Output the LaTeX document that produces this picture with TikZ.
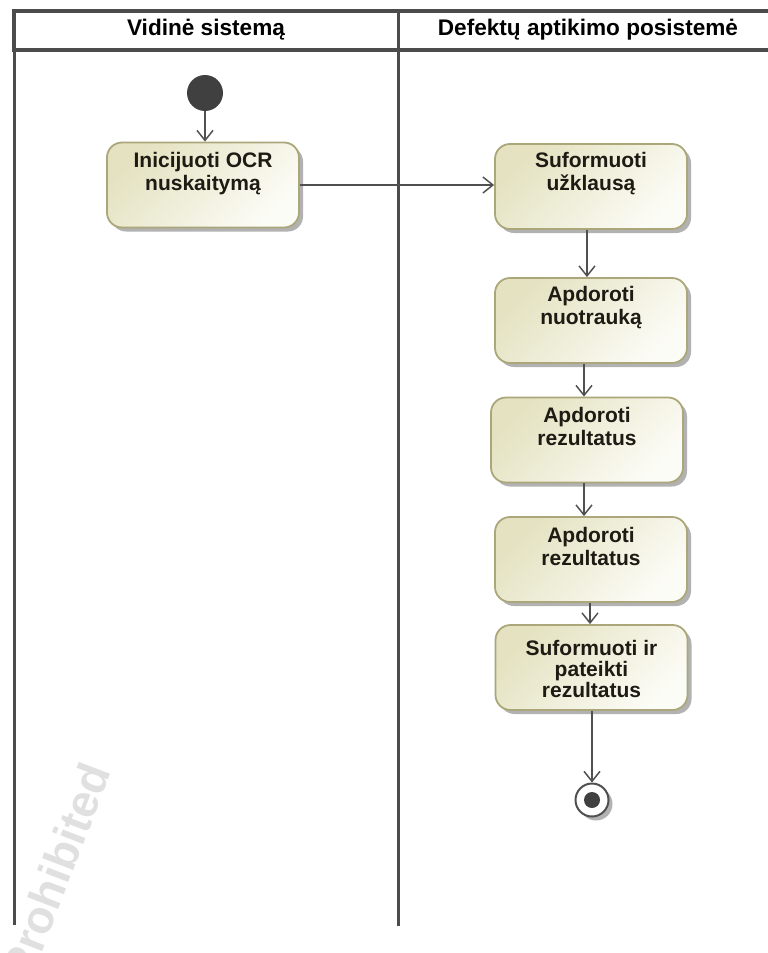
\documentclass[tikz,border=0pt]{standalone}
\usepackage{fontspec}
\setmainfont{Liberation Sans}
\usetikzlibrary{arrows.meta,shadows}

\definecolor{lanegray}{HTML}{4C4C4C}
\definecolor{flowgray}{HTML}{505050}
\definecolor{boxedge}{HTML}{ABA77A}
\definecolor{boxtop}{HTML}{E4E2C0}
\definecolor{boxbot}{HTML}{FCFCF7}
\definecolor{boxink}{HTML}{1E1A14}
\definecolor{dotfill}{HTML}{404040}
\definecolor{wmgray}{HTML}{E0E0E0}

\begin{document}
\begin{tikzpicture}[x=1pt,y=-1pt,
  lane/.style={draw=lanegray, line width=3pt},
  headframe/.style={draw=lanegray, line width=3.5pt, line join=miter},
  headtext/.style={font=\fontsize{22.6}{25}\selectfont\bfseries, text=black, inner sep=0pt},
  actbox/.style={rounded corners=15pt, draw=boxedge, line width=1.8pt,
    top color=boxtop, bottom color=boxbot, shading angle=45,
    minimum width=192pt, minimum height=85pt, inner sep=0pt,
    drop shadow={shadow xshift=4pt, shadow yshift=-4pt, fill=black, opacity=0.3}},
  acttext/.style={font=\fontsize{21}{23}\selectfont\bfseries, text=boxink,
    align=center, anchor=north, inner sep=0pt},
  flow/.style={draw=flowgray, line width=1.5pt,
    -{Straight Barb[length=10pt, width=16pt, line width=1.5pt]}},
  initnode/.style={circle, fill=dotfill, minimum size=36pt, inner sep=0pt},
  finalnode/.style={circle, draw=flowgray, line width=2pt, fill=white,
    minimum size=33pt, inner sep=0pt,
    drop shadow={shadow xshift=4pt, shadow yshift=-4pt, fill=black, opacity=0.3}},
  finaldot/.style={circle, fill=dotfill, minimum size=16pt, inner sep=0pt}
]
\useasboundingbox (0,0) rectangle (768,953);
\clip (0,0) rectangle (768,953);

% watermark
\node[rotate=69, anchor=base east, text=wmgray,
      font=\fontsize{46}{48}\selectfont\bfseries] (wm) at (113,768) {Prohibited};

% swimlane frame
\draw[headframe] (775,11) -- (14,11) -- (14,50) -- (775,50);
\draw[lane] (14,50) -- (14,925);
\draw[lane] (398,11) -- (398,926);
\node[headtext] (h1) at (206,30) {Vidinė sistemą};
\node[headtext] (h2) at (588,30) {Defektų aptikimo posistemė};

% actions
\node[actbox] (b1) at (203,185) {};
\node[acttext] (t1) at ([yshift=-10pt]b1.north) {Inicijuoti OCR\\nuskaitymą};
\node[actbox] (b2) at (591,186.5) {};
\node[acttext] (t2) at ([yshift=-9pt]b2.north) {Suformuoti\\užklausą};
\node[actbox] (b3) at (591,320.5) {};
\node[acttext] (t3) at ([yshift=-9pt]b3.north) {Apdoroti\\nuotrauką};
\node[actbox] (b4) at (587,440) {};
\node[acttext] (t4) at ([yshift=-10pt]b4.north) {Apdoroti\\rezultatus};
\node[actbox] (b5) at (591,559.5) {};
\node[acttext] (t5) at ([yshift=-11pt]b5.north) {Apdoroti\\rezultatus};
\node[actbox] (b6) at (591.5,667.5) {};
\node[acttext, font=\fontsize{21}{21}\selectfont\bfseries] (t6) at ([yshift=-16pt]b6.north) {Suformuoti ir\\pateikti\\rezultatus};

% initial and final nodes
\node[initnode] (start) at (205,93) {};
\node[finalnode] (end) at (592,800) {};
\node[finaldot] (endc) at (end.center) {};

% control flows
\draw[flow] (start.south) -- (start.south |- b1.north);
\draw[flow] (b1.east) -- (b1.east -| b2.west);
\draw[flow] ([xshift=-4pt]b2.south) -- ([xshift=-4pt]b2.south |- b3.north);
\draw[flow] ([xshift=-7pt]b3.south) -- ([xshift=-7pt]b3.south |- b4.north);
\draw[flow] ([xshift=-3pt]b4.south) -- ([xshift=-3pt]b4.south |- b5.north);
\draw[flow] ([xshift=-1pt]b5.south) -- ([xshift=-1pt]b5.south |- b6.north);
\draw[flow] (b6.south -| end) -- (end.north);
\end{tikzpicture}
\end{document}
